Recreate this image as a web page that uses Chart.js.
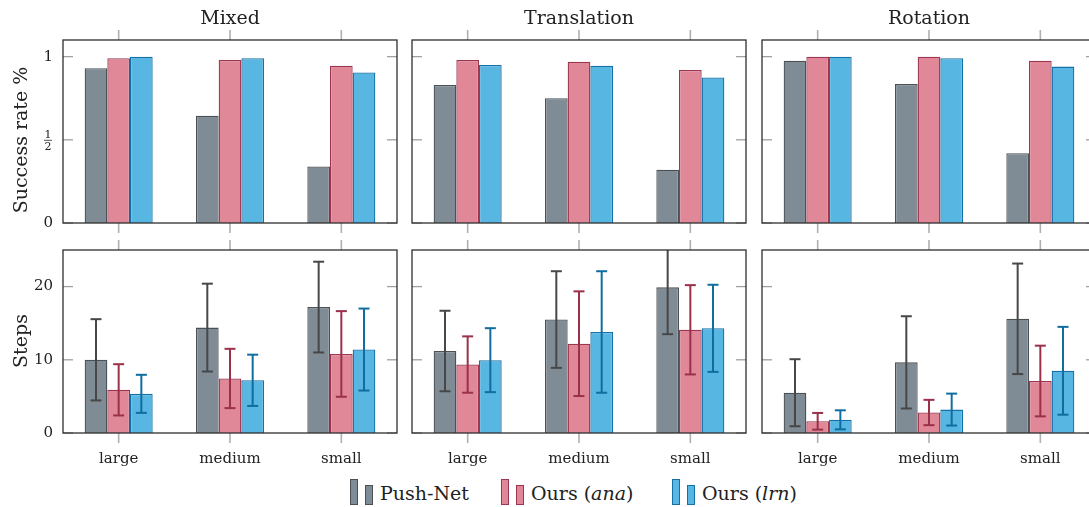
<!DOCTYPE html>
<html>
<head>
<meta charset="utf-8">
<script src="https://cdn.jsdelivr.net/npm/chart.js@4/dist/chart.umd.min.js"></script>
<style>
  html, body { margin: 0; padding: 0; background: #fff; }
  body { width: 1089px; height: 507px; overflow: hidden; position: relative; font-family: 'DejaVu Serif', serif; color: #222; }
  canvas { position: absolute; }
  .title { position: absolute; top: 5px; width: 334px; text-align: center; font-size: 19px; line-height: 24px; }
  .ylab { position: absolute; font-size: 19px; line-height: 22px; transform: rotate(-90deg); transform-origin: center center; white-space: nowrap; text-align: center; }
  .leg { position: absolute; top: 479px; height: 28px; font-size: 19px; line-height: 28px; white-space: nowrap; }
  .mk { position: absolute; box-sizing: border-box; }
</style>
</head>
<body>
<script>
// ---- data ----
const categories = ['large', 'medium', 'small'];
const panelTitles = ['Mixed', 'Translation', 'Rotation'];
const seriesNames = ['Push-Net', 'Ours (ana)', 'Ours (lrn)'];
const successTicks = [0, 0.5, 1];
const stepsTicks = [0, 10, 20];

const successMixedPush = [0.93, 0.645, 0.34];
const successMixedAna  = [0.99, 0.98, 0.945];
const successMixedLrn  = [1.0, 0.99, 0.905];
const successTransPush = [0.83, 0.75, 0.32];
const successTransAna  = [0.98, 0.97, 0.92];
const successTransLrn  = [0.95, 0.945, 0.875];
const successRotPush   = [0.975, 0.835, 0.42];
const successRotAna    = [1.0, 1.0, 0.975];
const successRotLrn    = [1.0, 0.99, 0.94];

const stepsMixedPush = [10.0, 14.4, 17.2];
const stepsMixedAna  = [5.9, 7.45, 10.8];
const stepsMixedLrn  = [5.35, 7.2, 11.4];
const stepsTransPush = [11.2, 15.5, 19.9];
const stepsTransAna  = [9.35, 12.2, 14.1];
const stepsTransLrn  = [9.95, 13.8, 14.3];
const stepsRotPush   = [5.5, 9.65, 15.6];
const stepsRotAna    = [1.6, 2.8, 7.1];
const stepsRotLrn    = [1.8, 3.2, 8.5];

const stdMixedPush = [5.55, 6.0, 6.2];
const stdMixedAna  = [3.5, 4.05, 5.85];
const stdMixedLrn  = [2.6, 3.5, 5.6];
const stdTransPush = [5.5, 6.6, 6.4];
const stdTransAna  = [3.85, 7.15, 6.1];
const stdTransLrn  = [4.37, 8.3, 5.95];
const stdRotPush   = [4.58, 6.3, 7.55];
const stdRotAna    = [1.14, 1.73, 4.83];
const stdRotLrn    = [1.3, 2.18, 6.0];

// ---- styles ----
const FONT = "'DejaVu Serif', serif";
const fillColors   = ['#7f8c95', '#e08898', '#58b6e2'];
const borderColors = ['#4b5054', '#9b3550', '#1570a6'];
const errorColors  = ['#474747', '#9a3049', '#0f6d9f'];

const panelLefts = [63, 412, 762];
const PANEL_W = 334;
const rowTops = [40, 250];
const PANEL_H = 183;
const LEFT_SPACE = 60, TOP_PAD = 12, RIGHT_PAD = 12, BOTTOM_SPACE = 40;

function line(ctx, x1, y1, x2, y2) { ctx.beginPath(); ctx.moveTo(x1, y1); ctx.lineTo(x2, y2); ctx.stroke(); }

const framePlugin = {
  id: 'frame',
  afterDatasetsDraw(chart) {
    const { ctx, chartArea: a, scales: { x, y } } = chart;
    ctx.save();
    ctx.beginPath();
    ctx.rect(a.left, a.top, a.right - a.left, a.bottom - a.top);
    ctx.clip();
    chart.data.datasets.forEach((ds, di) => {
      if (!ds.errors) return;
      const meta = chart.getDatasetMeta(di);
      ctx.strokeStyle = ds.errorColor;
      ctx.lineWidth = 2;
      meta.data.forEach((bar, i) => {
        const m = ds.data[i], e = ds.errors[i];
        const yt = y.getPixelForValue(m + e), yb = y.getPixelForValue(m - e);
        line(ctx, bar.x, yt, bar.x, yb);
        line(ctx, bar.x - 5.5, yt, bar.x + 5.5, yt);
        line(ctx, bar.x - 5.5, yb, bar.x + 5.5, yb);
      });
    });
    ctx.restore();
  },
  afterDraw(chart) {
    const { ctx, chartArea: a, scales: { x, y } } = chart;
    ctx.save();
    ctx.strokeStyle = '#a0a0a0';
    ctx.lineWidth = 1.3;
    y.ticks.forEach(t => {
      const py = y.getPixelForValue(t.value);
      line(ctx, a.left, py, a.left + 10, py);
      line(ctx, a.right - 10, py, a.right, py);
    });
    ctx.strokeStyle = '#b0b0b0';
    ctx.lineWidth = 1.6;
    x.ticks.forEach((t, i) => {
      const px = x.getPixelForTick(i);
      line(ctx, px, a.top - 10, px, a.top);
      line(ctx, px, a.bottom, px, a.bottom + 10);
    });
    ctx.strokeStyle = '#2e2e2e';
    ctx.lineWidth = 1.3;
    ctx.strokeRect(a.left, a.top, a.right - a.left, a.bottom - a.top);
    if (chart.options.fractionHalf && chart.options.showYLabels) {
      const py = y.getPixelForValue(0.5);
      const cx = a.left - 15;
      ctx.fillStyle = '#222';
      ctx.font = "11px " + FONT;
      ctx.textAlign = 'center';
      ctx.textBaseline = 'alphabetic';
      ctx.fillText('1', cx, py - 2);
      ctx.fillText('2', cx, py + 10);
      ctx.strokeStyle = '#222';
      ctx.lineWidth = 0.8;
      line(ctx, cx - 4, py + 0.5, cx + 4, py + 0.5);
    }
    ctx.restore();
  }
};

function makePanel(col, row, s1, s2, s3, e1, e2, e3) {
  const cv = document.createElement('canvas');
  const w = LEFT_SPACE + PANEL_W + RIGHT_PAD;
  const h = TOP_PAD + PANEL_H + BOTTOM_SPACE;
  cv.width = w; cv.height = h;
  cv.style.left = (panelLefts[col] - LEFT_SPACE) + 'px';
  cv.style.top = (rowTops[row] - TOP_PAD) + 'px';
  cv.style.width = w + 'px'; cv.style.height = h + 'px';
  document.body.appendChild(cv);
  const isTop = row === 0;
  const tickVals = isTop ? successTicks : stepsTicks;
  const series = [s1, s2, s3];
  const errs = [e1, e2, e3];
  const datasets = series.map((d, k) => ({
    label: seriesNames[k],
    data: d,
    errors: errs[k] || null,
    errorColor: errorColors[k],
    backgroundColor: fillColors[k],
    borderColor: borderColors[k],
    borderWidth: 1.3,
    borderSkipped: 'bottom',
    categoryPercentage: 0.611,
    barPercentage: 1.0
  }));
  const chart = new Chart(cv, {
    type: 'bar',
    data: { labels: categories, datasets },
    plugins: [framePlugin],
    options: {
      responsive: false,
      maintainAspectRatio: false,
      animation: false,
      devicePixelRatio: 1,
      fractionHalf: isTop,
      showYLabels: col === 0,
      layout: { padding: { top: TOP_PAD, right: RIGHT_PAD, left: 0, bottom: 0 } },
      plugins: { legend: { display: false }, tooltip: { enabled: false }, title: { display: false } },
      scales: {
        x: {
          type: 'category',
          offset: true,
          grid: { display: false, drawTicks: false },
          border: { display: false },
          ticks: {
            display: !isTop,
            color: '#222',
            padding: 17,
            maxRotation: 0,
            font: { family: FONT, size: 15 }
          },
          afterFit(scale) { scale.height = BOTTOM_SPACE; }
        },
        y: {
          min: 0,
          max: isTop ? 1.1 : 25,
          grid: { display: false, drawTicks: false },
          border: { display: false },
          afterBuildTicks(scale) { scale.ticks = tickVals.map(v => ({ value: v })); },
          ticks: {
            display: col === 0,
            color: '#222',
            padding: 10,
            font: { family: FONT, size: 15 },
            callback: v => (isTop && v === 0.5) ? '' : String(v)
          },
          afterFit(scale) { scale.width = LEFT_SPACE; }
        }
      }
    }
  });
  // compensate any extra padding Chart.js added so the plot box lands where intended
  const a = chart.chartArea;
  const gotH = a.bottom - a.top;
  if (Math.abs(gotH - PANEL_H) > 0.5) {
    const nh = Math.round(h + (PANEL_H - gotH));
    cv.style.height = nh + 'px';
    chart.resize(w, nh);
  }
  const a2 = chart.chartArea;
  cv.style.top = (rowTops[row] - a2.top) + 'px';
  cv.style.left = (panelLefts[col] - a2.left) + 'px';
}

makePanel(0, 0, successMixedPush, successMixedAna, successMixedLrn);
makePanel(1, 0, successTransPush, successTransAna, successTransLrn);
makePanel(2, 0, successRotPush, successRotAna, successRotLrn);
makePanel(0, 1, stepsMixedPush, stepsMixedAna, stepsMixedLrn, stdMixedPush, stdMixedAna, stdMixedLrn);
makePanel(1, 1, stepsTransPush, stepsTransAna, stepsTransLrn, stdTransPush, stdTransAna, stdTransLrn);
makePanel(2, 1, stepsRotPush, stepsRotAna, stepsRotLrn, stdRotPush, stdRotAna, stdRotLrn);

panelTitles.forEach((t, i) => {
  const d = document.createElement('div');
  d.className = 'title';
  d.style.left = panelLefts[i] + 'px';
  d.textContent = t;
  document.body.appendChild(d);
});

[['Success rate %', 140], ['Steps', 341]].forEach(([t, cy]) => {
  const d = document.createElement('div');
  d.className = 'ylab';
  d.textContent = t;
  d.style.width = '200px';
  d.style.left = (20 - 100) + 'px';
  d.style.top = (cy - 11) + 'px';
  document.body.appendChild(d);
});

const legendItems = [
  { x: 350, html: 'Push-Net' },
  { x: 501, html: 'Ours (<i>ana</i>)' },
  { x: 672, html: 'Ours (<i>lrn</i>)' }
];
legendItems.forEach((it, k) => {
  const a = document.createElement('div');
  a.className = 'mk';
  a.style.cssText += `left:${it.x}px;top:479px;width:8px;height:26px;background:${fillColors[k]};border:1.3px solid ${borderColors[k]};`;
  document.body.appendChild(a);
  const b = document.createElement('div');
  b.className = 'mk';
  b.style.cssText += `left:${it.x + 15}px;top:485px;width:8px;height:20px;background:${fillColors[k]};border:1.3px solid ${borderColors[k]};`;
  document.body.appendChild(b);
  const t = document.createElement('div');
  t.className = 'leg';
  t.style.left = (it.x + 30) + 'px';
  t.innerHTML = it.html;
  document.body.appendChild(t);
});
</script>
</body>
</html>
